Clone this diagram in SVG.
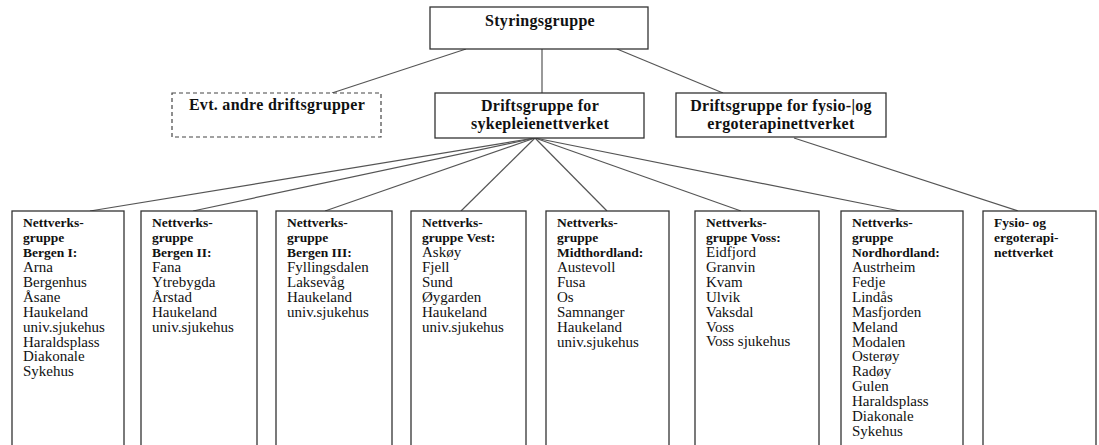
<svg xmlns="http://www.w3.org/2000/svg" width="1099" height="445" viewBox="0 0 1099 445">
<style>
.box{fill:#fff;stroke:#333;stroke-width:1.3}
.dash{fill:#fff;stroke:#444;stroke-width:1.2;stroke-dasharray:4 3}
.ln{stroke:#555;stroke-width:1.2;fill:none}
.t{font-family:'Liberation Serif','Times New Roman',serif;fill:#111}
.hb{font-family:'Liberation Serif','Times New Roman',serif;font-weight:700;font-size:16px;text-anchor:middle;letter-spacing:0.3px}
.h{font-family:'Liberation Serif','Times New Roman',serif;font-weight:700;font-size:13.5px}
.i{font-family:'Liberation Serif','Times New Roman',serif;font-size:15px}
</style>
<rect width="1099" height="445" fill="#fff"/>
<g id="connectors">
<line class="ln" x1="542" y1="49" x2="542" y2="93"/>
<line class="ln" x1="466" y1="49" x2="332" y2="93"/>
<line class="ln" x1="617" y1="49" x2="723" y2="93"/>
<line class="ln" x1="794" y1="138" x2="1018" y2="211"/>
<line class="ln" x1="535" y1="138" x2="90" y2="211"/>
<line class="ln" x1="535" y1="138" x2="193" y2="211"/>
<line class="ln" x1="535" y1="138" x2="325" y2="211"/>
<line class="ln" x1="535" y1="138" x2="461" y2="211"/>
<line class="ln" x1="535" y1="138" x2="607" y2="211"/>
<line class="ln" x1="535" y1="138" x2="741" y2="211"/>
<line class="ln" x1="535" y1="138" x2="900" y2="211"/>
</g>
<g id="styringsgruppe">
<rect class="box" x="430" y="7" width="218" height="42"/>
<text class="t hb" font-family="Liberation Serif" x="540" y="26">Styringsgruppe</text>
</g>
<g id="evt-andre">
<rect class="dash" x="172" y="93" width="209" height="44"/>
<text class="t hb" x="277" y="110">Evt. andre driftsgrupper</text>
</g>
<g id="drift-sykepleie">
<rect class="box" x="435" y="93" width="209" height="45"/>
<text class="t hb" x="540" y="111"><tspan x="540">Driftsgruppe for</tspan><tspan x="540" dy="18">sykepleienettverket</tspan></text>
</g>
<g id="drift-fysio">
<rect class="box" x="676" y="93" width="210" height="44"/>
<text class="t hb" x="781" y="111"><tspan x="781">Driftsgruppe for fysio-|og</tspan><tspan x="781" dy="18">ergoterapinettverket</tspan></text>
</g>
<g id="bergen1">
<rect class="box" x="12" y="211" width="112" height="250"/>
<text class="t h" y="227"><tspan x="23">Nettverks-</tspan><tspan x="23" dy="14.9">gruppe</tspan><tspan x="23" dy="14.9">Bergen I:</tspan></text>
<text class="t i" y="272"><tspan x="23">Arna</tspan><tspan x="23" dy="14.9">Bergenhus</tspan><tspan x="23" dy="14.9">Åsane</tspan><tspan x="23" dy="14.9">Haukeland</tspan><tspan x="23" dy="14.9">univ.sjukehus</tspan><tspan x="23" dy="14.9">Haraldsplass</tspan><tspan x="23" dy="14.9">Diakonale</tspan><tspan x="23" dy="14.9">Sykehus</tspan></text>
</g>
<g id="bergen2">
<rect class="box" x="141" y="211" width="116" height="250"/>
<text class="t h" y="227"><tspan x="152">Nettverks-</tspan><tspan x="152" dy="14.9">gruppe</tspan><tspan x="152" dy="14.9">Bergen II:</tspan></text>
<text class="t i" y="272"><tspan x="152">Fana</tspan><tspan x="152" dy="14.9">Ytrebygda</tspan><tspan x="152" dy="14.9">Årstad</tspan><tspan x="152" dy="14.9">Haukeland</tspan><tspan x="152" dy="14.9">univ.sjukehus</tspan></text>
</g>
<g id="bergen3">
<rect class="box" x="276" y="211" width="116" height="250"/>
<text class="t h" y="227"><tspan x="287">Nettverks-</tspan><tspan x="287" dy="14.9">gruppe</tspan><tspan x="287" dy="14.9">Bergen III:</tspan></text>
<text class="t i" y="272"><tspan x="287">Fyllingsdalen</tspan><tspan x="287" dy="14.9">Laksevåg</tspan><tspan x="287" dy="14.9">Haukeland</tspan><tspan x="287" dy="14.9">univ.sjukehus</tspan></text>
</g>
<g id="vest">
<rect class="box" x="411" y="211" width="115" height="250"/>
<text class="t h" y="227"><tspan x="422">Nettverks-</tspan><tspan x="422" dy="14.9">gruppe Vest:</tspan></text>
<text class="t i" y="257"><tspan x="422">Askøy</tspan><tspan x="422" dy="14.9">Fjell</tspan><tspan x="422" dy="14.9">Sund</tspan><tspan x="422" dy="14.9">Øygarden</tspan><tspan x="422" dy="14.9">Haukeland</tspan><tspan x="422" dy="14.9">univ.sjukehus</tspan></text>
</g>
<g id="midthordland">
<rect class="box" x="546" y="211" width="123" height="250"/>
<text class="t h" y="227"><tspan x="557">Nettverks-</tspan><tspan x="557" dy="14.9">gruppe</tspan><tspan x="557" dy="14.9">Midthordland:</tspan></text>
<text class="t i" y="272"><tspan x="557">Austevoll</tspan><tspan x="557" dy="14.9">Fusa</tspan><tspan x="557" dy="14.9">Os</tspan><tspan x="557" dy="14.9">Samnanger</tspan><tspan x="557" dy="14.9">Haukeland</tspan><tspan x="557" dy="14.9">univ.sjukehus</tspan></text>
</g>
<g id="voss">
<rect class="box" x="695" y="211" width="124" height="250"/>
<text class="t h" y="227"><tspan x="706">Nettverks-</tspan><tspan x="706" dy="14.9">gruppe Voss:</tspan></text>
<text class="t i" y="257"><tspan x="706">Eidfjord</tspan><tspan x="706" dy="14.9">Granvin</tspan><tspan x="706" dy="14.9">Kvam</tspan><tspan x="706" dy="14.9">Ulvik</tspan><tspan x="706" dy="14.9">Vaksdal</tspan><tspan x="706" dy="14.9">Voss</tspan><tspan x="706" dy="14.9">Voss sjukehus</tspan></text>
</g>
<g id="nordhordland">
<rect class="box" x="841" y="211" width="122" height="250"/>
<text class="t h" y="227"><tspan x="852">Nettverks-</tspan><tspan x="852" dy="14.9">gruppe</tspan><tspan x="852" dy="14.9">Nordhordland:</tspan></text>
<text class="t i" y="272"><tspan x="852">Austrheim</tspan><tspan x="852" dy="14.9">Fedje</tspan><tspan x="852" dy="14.9">Lindås</tspan><tspan x="852" dy="14.9">Masfjorden</tspan><tspan x="852" dy="14.9">Meland</tspan><tspan x="852" dy="14.9">Modalen</tspan><tspan x="852" dy="14.9">Osterøy</tspan><tspan x="852" dy="14.9">Radøy</tspan><tspan x="852" dy="14.9">Gulen</tspan><tspan x="852" dy="14.9">Haraldsplass</tspan><tspan x="852" dy="14.9">Diakonale</tspan><tspan x="852" dy="14.9">Sykehus</tspan></text>
</g>
<g id="fysio-nettverket">
<rect class="box" x="983" y="211" width="113" height="250"/>
<text class="t h" y="227"><tspan x="994">Fysio- og</tspan><tspan x="994" dy="14.9">ergoterapi-</tspan><tspan x="994" dy="14.9">nettverket</tspan></text>
</g>
</svg>
